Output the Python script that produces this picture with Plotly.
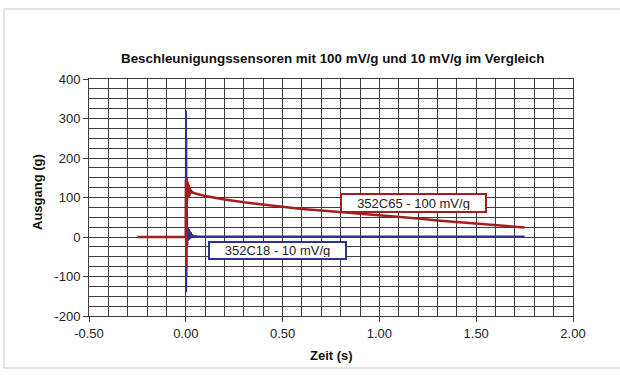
import plotly.graph_objects as go

# ---- data ----
red_name = "352C65 - 100 mV/g"
red_time = [-0.25, 0.0, 0.001, 0.002, 0.003, 0.004, 0.005, 0.006, 0.007, 0.008, 0.009,
            0.010, 0.012, 0.014, 0.016, 0.018, 0.020, 0.022, 0.025, 0.03, 0.05, 0.1, 0.2, 0.3,
            0.4, 0.5, 0.6, 0.7, 0.8, 0.9, 1.0, 1.1, 1.2, 1.3, 1.4, 1.5, 1.6, 1.7, 1.75]
red_value = [0, 0, 145, -78, 148, 60, 146, 90, 142, 95, 140,
             98, 136, 100, 132, 104, 126, 108, 120, 114, 110, 104, 95, 88,
             82, 76, 71, 67, 63, 60, 56, 52, 47, 42, 38, 34, 30, 26, 24]

blue_name = "352C18 - 10 mV/g"
blue_time = [0.0, 0.001, 0.002, 0.003, 0.004, 0.005, 0.006, 0.007, 0.008, 0.009, 0.010,
             0.012, 0.014, 0.016, 0.018, 0.020, 0.023, 0.026, 0.03, 0.035, 0.04, 0.05,
             0.06, 0.1, 0.5, 1.0, 1.5, 1.75]
blue_value = [0, 320, -140, 250, -100, 150, -50, 80, -20, 25, -10,
              22, -8, 20, -6, 16, -4, 12, 0, 6, 0, 3,
              1, 1, 1, 1, 1, 1]

title_text = "Beschleunigungssensoren mit 100 mV/g und 10 mV/g im Vergleich"
x_title = "Zeit (s)"
y_title = "Ausgang (g)"
x_ticks = [-0.5, 0.0, 0.5, 1.0, 1.5, 2.0]
x_ticklabels = ["-0.50", "0.00", "0.50", "1.00", "1.50", "2.00"]
y_ticks = [-200, -100, 0, 100, 200, 300, 400]
y_ticklabels = ["-200", "-100", "0", "100", "200", "300", "400"]

RED = "#a31f1f"
BLUE = "#2e3192"
GRID = "#403a3a"
FONT = "Liberation Sans, Arial, sans-serif"

fig = go.Figure()
fig.add_trace(go.Scatter(x=blue_time, y=blue_value, mode="lines", name=blue_name,
                         line=dict(color=BLUE, width=2)))
fig.add_trace(go.Scatter(x=red_time, y=red_value, mode="lines", name=red_name,
                         line=dict(color=RED, width=2.5)))

axis_common = dict(showgrid=True, gridcolor=GRID, gridwidth=1,
                   showline=True, linecolor=GRID, linewidth=1, mirror=True,
                   ticks="outside", ticklen=5, tickcolor=GRID, zeroline=False,
                   tickfont=dict(family=FONT, size=13, color="#222"))

fig.update_xaxes(range=[-0.5, 2.0], tickvals=x_ticks, ticktext=x_ticklabels,
                 minor=dict(dtick=0.1, showgrid=True, gridcolor=GRID, gridwidth=1, ticks=""),
                 **axis_common)
fig.update_yaxes(range=[-200, 400], tickvals=y_ticks, ticktext=y_ticklabels,
                 minor=dict(dtick=25, showgrid=True, gridcolor=GRID, gridwidth=1, ticks=""),
                 **axis_common)

L, R, T, B = 89, 47, 79, 64
PW, PH = 620 - L - R, 380 - T - B

def px(xp):
    return (xp - L) / PW

def py(yp):
    return (380 - B - yp) / PH

annotations = [
    dict(text="<b>%s</b>" % title_text, xref="paper", yref="paper", x=px(332), y=py(59),
         showarrow=False, font=dict(family=FONT, size=13.4, color="#111"),
         xanchor="center", yanchor="middle"),
    dict(text="<b>%s</b>" % x_title, xref="paper", yref="paper", x=px(331), y=py(355),
         showarrow=False, font=dict(family=FONT, size=13, color="#111"),
         xanchor="center", yanchor="middle"),
    dict(text="<b>%s</b>" % y_title, xref="paper", yref="paper", x=px(37), y=py(192),
         showarrow=False, textangle=-90, font=dict(family=FONT, size=13, color="#111"),
         xanchor="center", yanchor="middle"),
    dict(text=red_name, x=1.175, y=85, xref="x", yref="y", showarrow=False,
         font=dict(family=FONT, size=13, color="#222"), bgcolor="white",
         bordercolor=RED, borderwidth=2, borderpad=1, width=141, height=14),
    dict(text=blue_name, x=0.472, y=-34, xref="x", yref="y", showarrow=False,
         font=dict(family=FONT, size=13, color="#222"), bgcolor="white",
         bordercolor=BLUE, borderwidth=2, borderpad=1, width=133, height=13),
]

shapes = [
    dict(type="rect", xref="paper", yref="paper", x0=px(4), x1=px(640), y0=py(368), y1=py(9),
         line=dict(color="#c8c8c8", width=1), fillcolor="rgba(0,0,0,0)", layer="below"),
]

fig.update_layout(width=620, height=380, margin=dict(l=L, r=R, t=T, b=B),
                  paper_bgcolor="white", plot_bgcolor="white", showlegend=False,
                  annotations=annotations, shapes=shapes,
                  font=dict(family=FONT, size=13, color="#222"))

fig.write_html("out.html", config={"displayModeBar": False},
               post_script="document.body.style.margin='0';")
